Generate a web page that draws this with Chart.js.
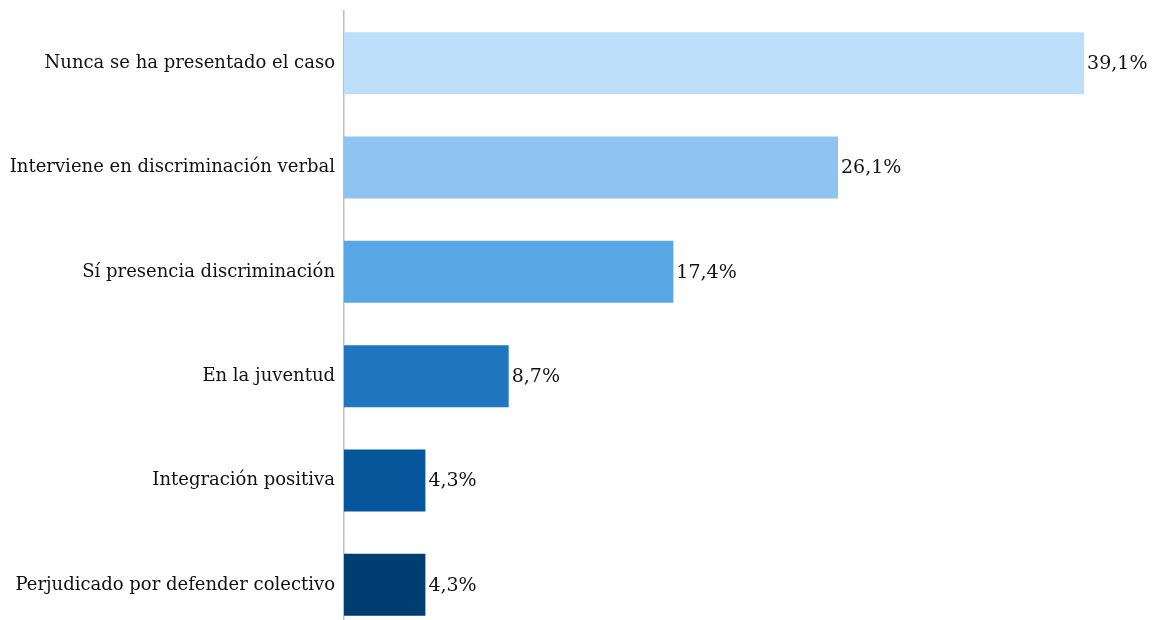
<!DOCTYPE html>
<html>
<head>
<meta charset="utf-8">
<script src="https://cdn.jsdelivr.net/npm/chart.js@4.4.1/dist/chart.umd.min.js"></script>
<style>
  html, body { margin: 0; padding: 0; background: #ffffff; overflow: hidden; }
  #wrap { position: relative; width: 1155px; height: 640px; }
</style>
</head>
<body>
<div id="wrap"><canvas id="chart" width="1155" height="640"></canvas></div>
<script>
const categories = [
  'Nunca se ha presentado el caso',
  'Interviene en discriminación verbal',
  'Sí presencia discriminación',
  'En la juventud',
  'Integración positiva',
  'Perjudicado por defender colectivo'
];
const values = [39.1, 26.1, 17.4, 8.7, 4.3, 4.3];
const valueLabels = ['39,1%', '26,1%', '17,4%', '8,7%', '4,3%', '4,3%'];
const barColors = ['#bddff9', '#8fc4f1', '#58a6e4', '#2177bf', '#05569a', '#003e72'];

const FONT = '"DejaVu Serif", "Liberation Serif", serif';

// Writes the percentage just past the end of each bar
const valueLabelPlugin = {
  id: 'valueLabels',
  afterDatasetsDraw(chart) {
    const ctx = chart.ctx;
    const meta = chart.getDatasetMeta(0);
    ctx.save();
    ctx.font = '19px ' + FONT;
    ctx.fillStyle = '#111111';
    ctx.textAlign = 'left';
    ctx.textBaseline = 'middle';
    meta.data.forEach((bar, i) => {
      ctx.fillText(valueLabels[i], bar.x + 3, bar.y + 1);
    });
    ctx.restore();
  }
};

new Chart(document.getElementById('chart'), {
  type: 'bar',
  data: {
    labels: categories,
    datasets: [{
      data: values,
      backgroundColor: barColors,
      borderWidth: 0,
      categoryPercentage: 1,
      barPercentage: 0.594
    }]
  },
  options: {
    indexAxis: 'y',
    responsive: false,
    animation: false,
    layout: { padding: { left: 0, right: 16, top: 11, bottom: 3 } },
    plugins: {
      legend: { display: false },
      tooltip: { enabled: false }
    },
    scales: {
      x: {
        min: 0,
        max: 42,
        display: false
      },
      y: {
        offset: true,
        grid: { display: false, drawTicks: false },
        border: { display: true, color: '#bfbfbf', width: 1.5 },
        ticks: {
          padding: 9,
          color: '#111111',
          font: { family: FONT, size: 18 }
        },
        afterFit(scale) {
          scale.width = 344;
          scale.paddingTop = 0;
          scale.paddingBottom = 0;
        }
      }
    }
  },
  plugins: [valueLabelPlugin]
});
</script>
</body>
</html>
